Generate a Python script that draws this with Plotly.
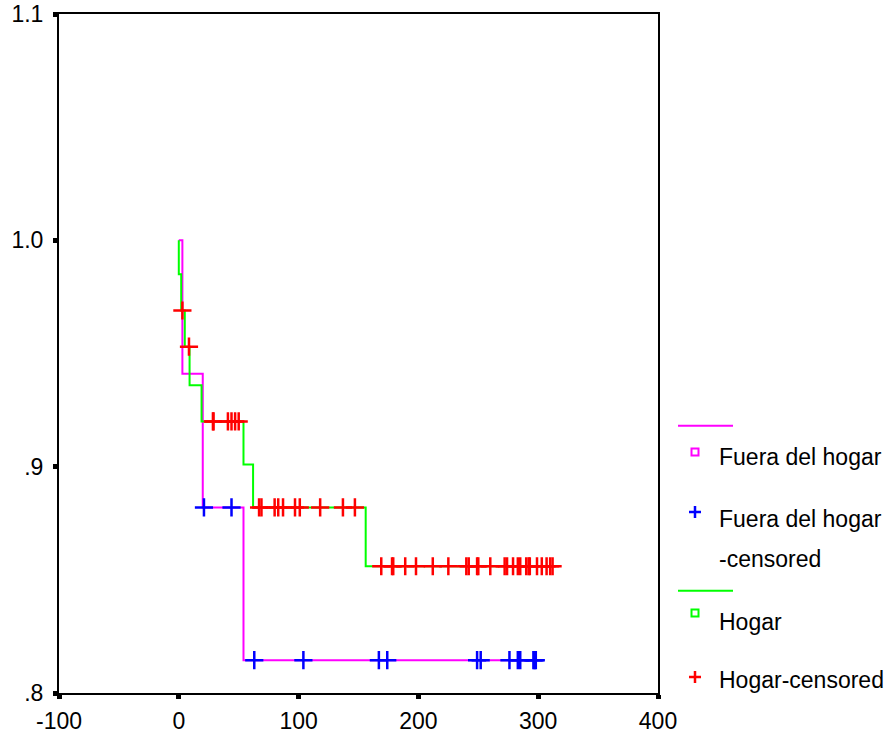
import plotly.graph_objects as go

# ---- data ----
fuera_t = [0, 3, 20, 54, 298]
fuera_s = [1.0, 0.941, 0.882, 0.8145, 0.8145]
fuera_cens_t = [21, 44, 63, 104, 167, 174, 249, 252, 276, 283, 285, 296, 297, 298]
fuera_cens_s = [0.882, 0.882] + [0.8145] * 12

hogar_t = [0, 0, 2, 5, 9, 19, 54, 62, 156, 312]
hogar_s = [1.0, 0.985, 0.969, 0.953, 0.936, 0.920, 0.901, 0.882, 0.856, 0.856]
hogar_cens_t = ([3, 8.5] + [28.5, 29, 41, 44, 47, 50]
                + [67, 69, 80, 83, 87, 97, 101, 118, 137, 147]
                + [169, 178, 179, 189, 198, 212, 225, 240, 242, 249, 250, 260, 272, 274,
                   279, 283, 285, 290, 292, 293, 299, 303, 307, 310, 312])
hogar_cens_s = ([0.969, 0.953] + [0.920] * 6 + [0.882] * 10 + [0.856] * 25)

x_ticks = [-100, 0, 100, 200, 300, 400]
x_ticktext = ["-100", "0", "100", "200", "300", "400"]
y_ticks = [0.8, 0.9, 1.0, 1.1]
y_ticktext = [".8", ".9", "1.0", "1.1"]

legend_labels = ["Fuera del hogar", "Fuera del hogar<br>-censored", "Hogar", "Hogar-censored"]

MAGENTA = "#FF00FF"
BLUE = "#0000FF"
GREEN = "#00FF00"
RED = "#FF0000"
FONT = "Arial, Liberation Sans, sans-serif"

W, H = 896, 736
L, R, T, B = 59, 658, 14, 693  # plot area in pixels

fig = go.Figure()
fig.add_trace(go.Scatter(x=fuera_t, y=fuera_s, mode="lines", line=dict(color=MAGENTA, width=2, shape="hv"),
                         showlegend=False, hoverinfo="skip"))
fig.add_trace(go.Scatter(x=fuera_cens_t, y=fuera_cens_s, mode="markers",
                         marker=dict(symbol="cross-thin", size=13, line=dict(color=BLUE, width=2.5)),
                         showlegend=False))
fig.add_trace(go.Scatter(x=hogar_t, y=hogar_s, mode="lines", line=dict(color=GREEN, width=2, shape="hv"),
                         showlegend=False, hoverinfo="skip"))
fig.add_trace(go.Scatter(x=hogar_cens_t, y=hogar_cens_s, mode="markers",
                         marker=dict(symbol="cross-thin", size=13, line=dict(color=RED, width=2.5)),
                         showlegend=False))


def px(x):
    return (x - L) / (R - L)


def py(y):
    return (B - y) / (B - T)


shapes = []
annotations = []
# legend: line, square, cross
for yline, col in [(425.7, MAGENTA), (590.7, GREEN)]:
    shapes.append(dict(type="line", xref="paper", yref="paper", x0=px(678), x1=px(733), y0=py(yline), y1=py(yline),
                       line=dict(color=col, width=2)))
for ysq, col in [(452, MAGENTA), (613, GREEN)]:
    shapes.append(dict(type="rect", xref="paper", yref="paper", x0=px(691.5), x1=px(698.5), y0=py(ysq - 3.5),
                       y1=py(ysq + 3.5), line=dict(color=col, width=2)))
for yc, col in [(512, BLUE), (677, RED)]:
    shapes.append(dict(type="line", xref="paper", yref="paper", x0=px(689), x1=px(701), y0=py(yc), y1=py(yc),
                       line=dict(color=col, width=2.5)))
    shapes.append(dict(type="line", xref="paper", yref="paper", x0=px(695), x1=px(695), y0=py(yc - 6), y1=py(yc + 6),
                       line=dict(color=col, width=2.5)))

for text, yc in [(legend_labels[0], 457), (legend_labels[1].split("<br>")[0], 519),
                 (legend_labels[1].split("<br>")[1], 559), (legend_labels[2], 622), (legend_labels[3], 680)]:
    annotations.append(dict(text=text, xref="paper", yref="paper", x=px(717), y=py(yc), xanchor="left",
                            yanchor="middle", showarrow=False, font=dict(family=FONT, size=23, color="#000000")))

fig.update_layout(
    width=W, height=H,
    margin=dict(l=L, r=W - R, t=T, b=H - B, pad=0),
    paper_bgcolor="white", plot_bgcolor="white",
    shapes=shapes, annotations=annotations,
    font=dict(family=FONT, size=23, color="#000000"),
)
fig.update_xaxes(range=[-100, 400], tickvals=x_ticks, ticktext=x_ticktext, ticks="outside", ticklen=4, tickwidth=5,
                 tickcolor="black", showline=True, linecolor="black", linewidth=2, mirror=True, showgrid=False,
                 zeroline=False, automargin=False, ticklabelstandoff=2, tickfont=dict(family=FONT, size=23))
fig.update_yaxes(range=[0.8, 1.1], tickvals=y_ticks, ticktext=y_ticktext, ticks="outside", ticklen=4, tickwidth=5,
                 tickcolor="black", showline=True, linecolor="black", linewidth=2, mirror=True, showgrid=False,
                 zeroline=False, automargin=False, ticklabelstandoff=5, tickfont=dict(family=FONT, size=23))

fig.write_html("out.html")
